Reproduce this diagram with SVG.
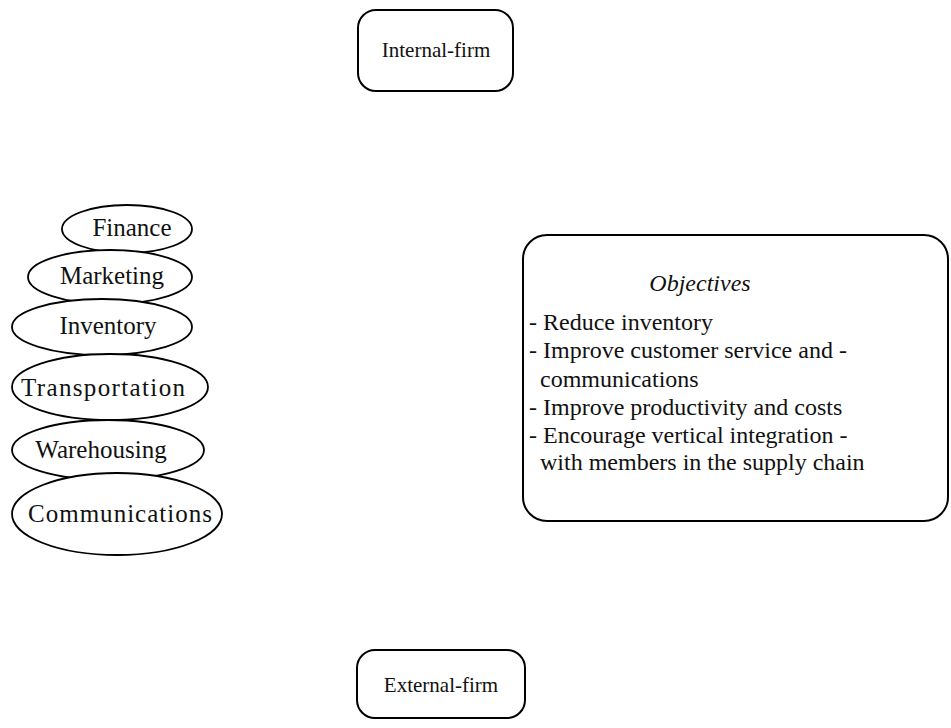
<svg xmlns="http://www.w3.org/2000/svg" width="951" height="728" viewBox="0 0 951 728">
<style>
.box{fill:#fff;stroke:#000;stroke-width:2}
.ell{fill:#fff;stroke:#000;stroke-width:1.8}
text{font-family:"Liberation Serif","Times New Roman",serif;font-size:24px;fill:#111}
.c{text-anchor:middle}
.i{font-style:italic}
.e{font-size:25px}
.b{font-size:21px}
</style>
<rect width="951" height="728" fill="#fff"/>
<g id="internal-firm">
<rect class="box" x="358" y="10" width="155" height="81" rx="18"/>
<text class="c b" x="436" y="57">Internal-firm</text>
</g>
<g id="functions">
<g id="finance"><ellipse class="ell" cx="127" cy="229" rx="65" ry="24"/><text class="c e" x="132" y="236">Finance</text></g>
<g id="marketing"><ellipse class="ell" cx="110" cy="277" rx="82" ry="27"/><text class="c e" x="112" y="284">Marketing</text></g>
<g id="inventory"><ellipse class="ell" cx="102" cy="327" rx="90" ry="28"/><text class="c e" x="108" y="334">Inventory</text></g>
<g id="transportation"><ellipse class="ell" cx="110" cy="387" rx="98" ry="33"/><text class="e" x="21" y="396" textLength="164" lengthAdjust="spacing">Transportation</text></g>
<g id="warehousing"><ellipse class="ell" cx="108" cy="450" rx="96" ry="30"/><text class="c e" x="101" y="458">Warehousing</text></g>
<g id="communications"><ellipse class="ell" cx="117" cy="514" rx="105" ry="41"/><text class="e" x="28" y="522" textLength="184" lengthAdjust="spacing">Communications</text></g>
</g>
<g id="objectives">
<rect class="box" x="523" y="235" width="425" height="286" rx="24"/>
<text class="c i" x="700" y="291">Objectives</text>
<text x="529" y="330">- Reduce inventory</text>
<text x="529" y="358">- Improve customer service and -</text>
<text x="540" y="387">communications</text>
<text x="529" y="415">- Improve productivity and costs</text>
<text x="529" y="443">- Encourage vertical integration -</text>
<text x="540" y="470">with members in the supply chain</text>
</g>
<g id="external-firm">
<rect class="box" x="357" y="650" width="168" height="68" rx="18"/>
<text class="c b" x="441" y="692">External-firm</text>
</g>
<g id="connectors"></g>
</svg>
